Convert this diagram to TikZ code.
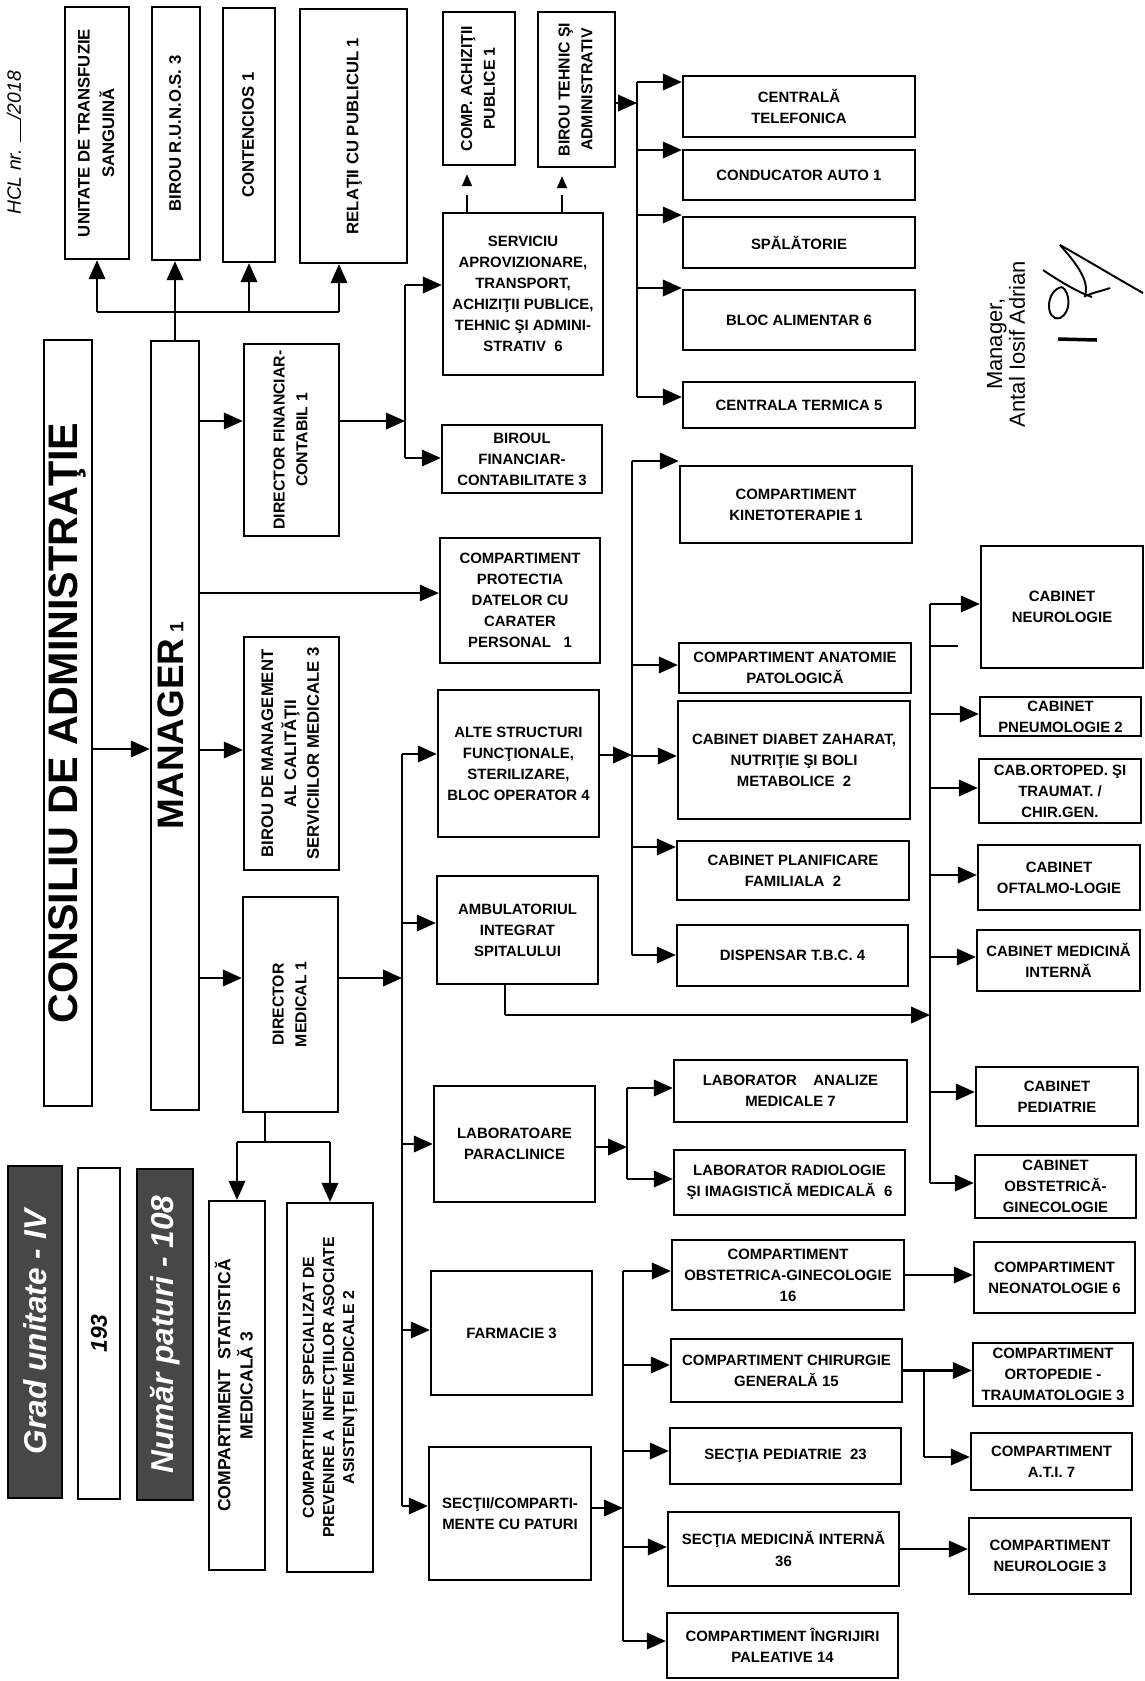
\documentclass[tikz,border=0pt]{standalone}
\usepackage{fontspec}
\setmainfont{Liberation Sans}
\usepackage{graphicx}
\usepackage{tikz}
\usetikzlibrary{arrows.meta}

% vertical text for the tall boxes
\newcommand{\vtxt}[1]{\rotatebox{90}{\begin{tabular}{@{}c@{}}#1\end{tabular}}}

\begin{document}
\begin{tikzpicture}[x=0.02cm,y=-0.02cm,
    box/.style={draw, line width=1.35pt, inner sep=0.5pt, align=center,
        font=\fontsize{8.5}{12}\selectfont\bfseries},
    vbox/.style={box, font=\fontsize{9}{13}\selectfont\bfseries},
    dark/.style={draw, line width=1.5pt, fill=black!72, text=white, inner sep=0pt,
        font=\fontsize{18}{20}\selectfont\bfseries\itshape},
    link/.style={line width=1.2pt},
    arr/.style={line width=1.2pt, -{Triangle[length=0.38cm,width=0.33cm]}},
    tipdash/.style={line width=0.9pt, dash pattern=on 0.36cm off 0.2cm,
        shorten >=0.16cm, -{Triangle[length=0.24cm,width=0.2cm]}}]

\fill[white] (0,0) rectangle (1144,1681);
\useasboundingbox (0,0) rectangle (1144,1681);

% HCL number
\node[rotate=90, font=\fontsize{11}{12}\selectfont\itshape] (hcl) at (14,143)
    {HCL nr. \rule{0.45cm}{0.5pt}/2018};

% Top row (under manager)
\node[vbox, font=\fontsize{9.5}{14}\selectfont\bfseries, minimum width=1.28cm, minimum height=5.04cm]
    (unit) at (97,133) {\vtxt{UNITATE DE TRANSFUZIE\\SANGUINĂ}};
\node[vbox, font=\fontsize{9.5}{14}\selectfont\bfseries, minimum width=0.96cm, minimum height=5.06cm]
    (runos) at (176,133.5) {\vtxt{BIROU R.U.N.O.S. 3}};
\node[vbox, font=\fontsize{9.5}{14}\selectfont\bfseries, minimum width=1.04cm, minimum height=5.08cm]
    (cont) at (249,135) {\vtxt{CONTENCIOS 1}};
\node[vbox, font=\fontsize{9.5}{14}\selectfont\bfseries, minimum width=2.14cm, minimum height=5.08cm]
    (rel) at (353.5,136) {\vtxt{RELAŢII CU PUBLICUL 1}};

% Consiliu and manager
\node[box, font=\fontsize{23.5}{26}\selectfont\bfseries, minimum width=0.92cm, minimum height=15.32cm]
    (cons) at (68,723) {\vtxt{CONSILIU DE ADMINISTRAŢIE}};
\node[box, font=\fontsize{21}{24}\selectfont\bfseries, minimum width=0.96cm, minimum height=15.38cm]
    (man) at (175,725.5) {\vtxt{MANAGER\,{\fontsize{11}{11}\selectfont 1}}};

% Directors
\node[vbox, minimum width=1.9cm, minimum height=3.84cm] (dfin) at (291.5,440)
    {\vtxt{DIRECTOR FINANCIAR-\\CONTABIL 1}};
\node[vbox, font=\fontsize{9.5}{13}\selectfont\bfseries, minimum width=1.9cm, minimum height=4.66cm]
    (bmc) at (291.5,753.5) {\vtxt{BIROU DE MANAGEMENT\\AL CALITĂŢII\\SERVICIILOR MEDICALE 3}};
\node[vbox, minimum width=1.9cm, minimum height=4.3cm] (dmed) at (290.5,1004.5)
    {\vtxt{DIRECTOR\\MEDICAL 1}};
\node[vbox, font=\fontsize{10}{12.5}\selectfont\bfseries, minimum width=1.12cm, minimum height=7.38cm]
    (stat) at (237,1385.5) {\vtxt{COMPARTIMENT~~STATISTICĂ\\MEDICALĂ 3}};
\node[vbox, font=\fontsize{9}{11.5}\selectfont\bfseries, minimum width=1.72cm, minimum height=7.38cm]
    (spec) at (330,1387.5) {\vtxt{COMPARTIMENT SPECIALIZAT DE\\PREVENIRE A~~INFECŢIILOR ASOCIATE\\ASISTENŢEI MEDICALE 2}};

% Unit grade and beds
\node[dark, minimum width=1.08cm, minimum height=6.64cm] (grad) at (35,1332)
    {\rotatebox{90}{Grad unitate - IV}};
\node[box, line width=1.5pt, font=\fontsize{13}{14}\selectfont\bfseries\itshape,
    minimum width=0.84cm, minimum height=6.62cm] (nr) at (99,1333.5) {\rotatebox{90}{193}};
\node[dark, minimum width=1.12cm, minimum height=6.62cm] (nrp) at (165,1334.5)
    {\rotatebox{90}{Număr paturi - 108}};

% Financial branch
\node[vbox, minimum width=1.44cm, minimum height=3.06cm] (acq) at (479,88.5)
    {\vtxt{COMP. ACHIZIŢII\\PUBLICE 1}};
\node[vbox, minimum width=1.54cm, minimum height=3.1cm] (bta) at (576.5,89.5)
    {\vtxt{BIROU TEHNIC ŞI\\ADMINISTRATIV}};
\node[box, minimum width=3.2cm, minimum height=3.24cm] (serv) at (523,294)
    {SERVICIU\\APROVIZIONARE,\\TRANSPORT,\\ACHIZIŢII PUBLICE,\\TEHNIC ŞI ADMINI-\\STRATIV~~6};
\node[box, minimum width=3.2cm, minimum height=1.36cm] (bfc) at (522,459)
    {BIROUL\\FINANCIAR-\\CONTABILITATE 3};

\node[box, minimum width=4.64cm, minimum height=1.22cm] (tel) at (799,106.5) {CENTRALĂ\\TELEFONICA};
\node[box, minimum width=4.64cm, minimum height=1.0cm] (auto) at (799,175) {CONDUCATOR AUTO 1};
\node[box, minimum width=4.64cm, minimum height=1.02cm] (spal) at (799,242.5) {SPĂLĂTORIE};
\node[box, minimum width=4.64cm, minimum height=1.2cm] (bloc) at (799,320) {BLOC ALIMENTAR 6};
\node[box, minimum width=4.64cm, minimum height=0.92cm] (term) at (799,405) {CENTRALA TERMICA 5};

% Middle column
\node[box, minimum width=3.2cm, minimum height=2.5cm] (prot) at (520,600.5)
    {COMPARTIMENT\\PROTECTIA\\DATELOR CU\\CARATER\\PERSONAL~~~1};
\node[box, minimum width=3.22cm, minimum height=2.94cm] (alte) at (518.5,763.5)
    {ALTE STRUCTURI\\FUNCŢIONALE,\\STERILIZARE,\\BLOC OPERATOR 4};
\node[box, minimum width=3.22cm, minimum height=2.16cm] (amb) at (517.5,930)
    {AMBULATORIUL\\INTEGRAT\\SPITALULUI};
\node[box, minimum width=3.22cm, minimum height=2.32cm] (lab) at (514.5,1144)
    {LABORATOARE\\PARACLINICE};
\node[box, minimum width=3.22cm, minimum height=2.48cm] (farm) at (511.5,1333) {FARMACIE 3};
\node[box, minimum width=3.24cm, minimum height=2.66cm] (sect) at (510,1513.5)
    {SECŢII/COMPARTI-\\MENTE CU PATURI};

% Other structures
\node[box, minimum width=4.64cm, minimum height=1.54cm] (kine) at (796,504.5)
    {COMPARTIMENT\\KINETOTERAPIE 1};
\node[box, minimum width=4.64cm, minimum height=1.0cm] (anat) at (795,668)
    {COMPARTIMENT ANATOMIE\\PATOLOGICĂ};
\node[box, minimum width=4.64cm, minimum height=2.36cm] (diab) at (794,760)
    {CABINET DIABET ZAHARAT,\\NUTRIŢIE ŞI BOLI\\METABOLICE~~2};
\node[box, minimum width=4.64cm, minimum height=1.18cm] (plan) at (793,870.5)
    {CABINET PLANIFICARE\\FAMILIALA~~2};
\node[box, minimum width=4.62cm, minimum height=1.22cm] (disp) at (792.5,955.5) {DISPENSAR T.B.C. 4};

% Cabinets of the ambulatory
\node[box, minimum width=3.24cm, minimum height=2.44cm] (cneur) at (1062,607) {CABINET\\NEUROLOGIE};
\node[box, minimum width=3.22cm, minimum height=0.78cm] (cpne) at (1060.5,716.5) {CABINET\\PNEUMOLOGIE 2};
\node[box, minimum width=3.24cm, minimum height=1.28cm] (cort) at (1060,791) {CAB.ORTOPED. ŞI\\TRAUMAT. /\\CHIR.GEN.};
\node[box, minimum width=3.24cm, minimum height=1.3cm] (coft) at (1059,877.5) {CABINET\\OFTALMO-LOGIE};
\node[box, minimum width=3.26cm, minimum height=1.22cm] (cmed) at (1058.5,960.5) {CABINET MEDICINĂ\\INTERNĂ};
\node[box, minimum width=3.24cm, minimum height=1.18cm] (cped) at (1057,1096.5) {CABINET\\PEDIATRIE};
\node[box, minimum width=3.22cm, minimum height=1.26cm] (cobs) at (1055.5,1186.5) {CABINET\\OBSTETRICĂ-\\GINECOLOGIE};

% Laboratories
\node[box, minimum width=4.66cm, minimum height=1.24cm] (lam) at (790.5,1091)
    {LABORATOR~~~~ANALIZE\\MEDICALE 7};
\node[box, minimum width=4.62cm, minimum height=1.3cm] (lrad) at (789.5,1182.5)
    {LABORATOR RADIOLOGIE\\ŞI IMAGISTICĂ MEDICALĂ~~6};

% Wards
\node[box, minimum width=4.64cm, minimum height=1.4cm] (cobst) at (788,1275)
    {COMPARTIMENT\\OBSTETRICA-GINECOLOGIE\\16};
\node[box, minimum width=4.62cm, minimum height=1.26cm] (cchir) at (786.5,1370.5)
    {COMPARTIMENT CHIRURGIE\\GENERALĂ 15};
\node[box, minimum width=4.62cm, minimum height=1.12cm] (sped) at (785.5,1456) {SECŢIA PEDIATRIE~~23};
\node[box, minimum width=4.62cm, minimum height=1.48cm] (smi) at (783.5,1549)
    {SECŢIA MEDICINĂ INTERNĂ\\36};
\node[box, minimum width=4.62cm, minimum height=1.3cm] (cpal) at (782.5,1645.5)
    {COMPARTIMENT ÎNGRIJIRI\\PALEATIVE 14};
\node[box, minimum width=3.22cm, minimum height=1.42cm] (neo) at (1054.5,1277.5)
    {COMPARTIMENT\\NEONATOLOGIE 6};
\node[box, minimum width=3.2cm, minimum height=1.26cm] (orto) at (1053,1374.5)
    {COMPARTIMENT\\ORTOPEDIE -\\TRAUMATOLOGIE 3};
\node[box, minimum width=3.22cm, minimum height=1.14cm] (ati) at (1051.5,1461.5)
    {COMPARTIMENT\\A.T.I. 7};
\node[box, minimum width=3.24cm, minimum height=1.52cm] (cneu) at (1050,1556)
    {COMPARTIMENT\\NEUROLOGIE 3};

% Signature
\node[rotate=90, align=center, font=\fontsize{12.5}{13}\selectfont] (sig) at (1006,344)
    {Manager,\\Antal Iosif Adrian};
\draw[line width=1.1pt] (1060,245) .. controls (1090,262) and (1120,280) .. (1143,293);
\draw[line width=1.1pt] (1043,270) .. controls (1062,283) and (1080,293) .. (1092,297);
\draw[line width=1.1pt] (1062,287) .. controls (1045,290) and (1045,322) .. (1060,318)
    .. controls (1072,312) and (1070,292) .. (1062,287);
\draw[line width=1.1pt] (1060,245) .. controls (1075,262) and (1090,280) .. (1085,296)
    .. controls (1095,292) and (1105,290) .. (1110,288);
\draw[line width=2pt] (1058,339) -- (1097,340);

% Manager to top row
\coordinate (tb1) at (97,312);
\coordinate (tb2) at (175,312);
\coordinate (tb3) at (249,312);
\coordinate (tb4) at (339,312);
\draw[link] (tb1) -- (tb4);
\draw[link] (man.north) -- (tb2);
\foreach \b/\n in {tb1/unit, tb2/runos, tb3/cont, tb4/rel}
    \draw[arr] (\b) -- (\b |- \n.south);

% Consiliu to manager, manager to directors
\coordinate (cman) at (91,749);
\draw[arr] (cman) -- (cman -| man.west);
\foreach \y/\n in {421/dfin, 750/bmc, 978/dmed} {
    \coordinate (m\n) at (199,\y);
    \draw[arr] (m\n) -- (m\n -| \n.west);
}
\coordinate (mprot) at (199,593);
\draw[arr, line width=0.6pt] (mprot) -- (mprot -| prot.west);

% Financial director
\coordinate (fbm) at (405,421);
\coordinate (fb1) at (405,285);
\coordinate (fb2) at (405,458);
\draw[arr] (dfin.east |- fbm) -- (fbm);
\draw[link] (fb1) -- (fb2);
\draw[arr] (fb1) -- (fb1 -| serv.west);
\draw[arr] (fb2) -- (fb2 -| bfc.west);

% Service to its offices
\coordinate (sq1) at (467,213);
\coordinate (sq2) at (562,213);
\draw[tipdash] (sq1) -- (sq1 |- acq.south);
\draw[tipdash] (sq2) -- (sq2 |- bta.south);
\coordinate (rb0) at (637,103);
\draw[arr] (bta.east |- rb0) -- (rb0);
\foreach \y/\n [count=\i] in {82/tel, 150/auto, 215/spal, 288/bloc, 397/term} {
    \coordinate (rb\i) at (637,\y);
    \draw[arr] (rb\i) -- (rb\i -| \n.west);
}
\draw[link] (rb1) -- (rb5);

% Medical director
\coordinate (db0) at (402,978);
\draw[arr] (dmed.east |- db0) -- (db0);
\foreach \y/\n [count=\i] in {754/alte, 923/amb, 1144/lab, 1330/farm, 1506/sect} {
    \coordinate (db\i) at (402,\y);
    \draw[arr] (db\i) -- (db\i -| \n.west);
}
\draw[link] (db1) -- (db5);

\coordinate (dj) at (265,1142);
\coordinate (dl) at (237,1142);
\coordinate (dr) at (330,1142);
\draw[link] (dmed.south -| dj) -- (dj);
\draw[link] (dl) -- (dr);
\draw[arr] (dl) -- (stat.north);
\draw[arr] (dr) -- (spec.north);

% Other structures
\coordinate (ab0) at (632,755);
\draw[arr] (alte.east |- ab0) -- (ab0);
\foreach \y/\n [count=\i] in {461/kine, 665/anat, 756/diab, 847/plan, 955/disp} {
    \coordinate (ab\i) at (632,\y);
    \draw[arr] (ab\i) -- (ab\i -| \n.west);
}
\draw[link] (ab1) -- (ab5);

% Ambulatory cabinets
\foreach \y/\n [count=\i] in {604/cneur, 714/cpne, 788/cort, 875/coft, 957/cmed, 1092/cped, 1183/cobs} {
    \coordinate (cb\i) at (930,\y);
    \draw[arr] (cb\i) -- (cb\i -| \n.west);
}
\draw[link] (cb1) -- (cb7);
\coordinate (cst) at (930,646);
\draw[link] (cst) -- ++(28,0);
\coordinate (ad) at (505,1015);
\draw[link] (amb.south -| ad) -- (ad);
\draw[arr] (ad) -- (ad -| cb1);

% Laboratories
\coordinate (lb0) at (627,1147);
\coordinate (lb1) at (627,1088);
\coordinate (lb2) at (627,1179);
\draw[arr] (lab.east |- lb0) -- (lb0);
\draw[link] (lb1) -- (lb2);
\draw[arr] (lb1) -- (lb1 -| lam.west);
\draw[arr] (lb2) -- (lb2 -| lrad.west);

% Wards
\coordinate (pb0) at (623,1508);
\draw[arr] (sect.east |- pb0) -- (pb0);
\foreach \y/\n [count=\i] in {1271/cobst, 1365/cchir, 1451/sped, 1547/smi, 1641/cpal} {
    \coordinate (pb\i) at (623,\y);
    \draw[arr] (pb\i) -- (pb\i -| \n.west);
}
\draw[link] (pb1) -- (pb5);

\draw[arr] (cobst.east) -- (cobst.east -| neo.west);
\draw[arr] (cchir.east) -- (cchir.east -| orto.west);
\coordinate (oj) at (924,1370.5);
\coordinate (oa) at (924,1457);
\draw[link] (oj) -- (oa);
\draw[arr] (oa) -- (oa -| ati.west);
\draw[arr] (smi.east) -- (smi.east -| cneu.west);

\end{tikzpicture}
\end{document}
